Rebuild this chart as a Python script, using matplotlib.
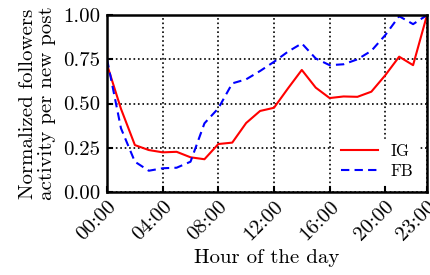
import matplotlib
matplotlib.use("Agg")
import matplotlib.pyplot as plt
import numpy as np

plt.rcParams['font.family'] = 'serif'
plt.rcParams['font.serif'] = ['cmr10']
plt.rcParams['mathtext.fontset'] = 'cm'
plt.rcParams['axes.unicode_minus'] = False

hours = np.arange(24)
ig = [0.72, 0.47, 0.265, 0.237, 0.224, 0.227, 0.196, 0.185, 0.271, 0.279, 0.39, 0.458,
      0.476, 0.585, 0.69, 0.59, 0.531, 0.54, 0.538, 0.567, 0.66, 0.765, 0.717, 1.0]
fb = [0.75, 0.36, 0.171, 0.12, 0.134, 0.137, 0.171, 0.388, 0.473, 0.614, 0.637, 0.684,
      0.736, 0.793, 0.84, 0.755, 0.717, 0.722, 0.75, 0.798, 0.887, 0.994, 0.949, 1.0]
xticks = [0, 4, 8, 12, 16, 20, 23]
xlabels = ['00:00', '04:00', '08:00', '12:00', '16:00', '20:00', '23:00']
yticks = [0.0, 0.25, 0.5, 0.75, 1.0]

fig = plt.figure(figsize=(4.3, 2.75), dpi=100)
ax = fig.add_axes([0.249, 0.302, 0.744, 0.643])

ax.plot(hours, ig, color='red', lw=1.5, label='IG')
ax.plot(hours, fb, color='blue', lw=1.5, ls=(0, (4, 2.5)), label='FB')

ax.set_xlim(0, 23)
ax.set_ylim(0, 1)
ax.set_xticks(xticks)
ax.set_xticklabels(xlabels, rotation=45, ha='right', rotation_mode='anchor')
ax.set_yticks(yticks)
ax.set_yticklabels(['%.2f' % v for v in yticks])
ax.tick_params(direction='in', labelsize=15, width=1.5, length=4, pad=5)
ax.tick_params(axis='x', pad=4)
ax.grid(True, color='black', ls=':', lw=1.2)
for s in ax.spines.values():
    s.set_linewidth(1.8)

ax.set_xlabel('Hour of the day', fontsize=15, labelpad=4)
ax.set_ylabel('Normalized followers\nactivity per new post', fontsize=15,
              linespacing=1.05, labelpad=5)

leg = ax.legend(loc='lower right', fontsize=12, frameon=True, framealpha=1,
                edgecolor='white', fancybox=False, handlelength=2.2, borderpad=0.3,
                labelspacing=0.25)

fig.savefig('out.png', dpi=100)
